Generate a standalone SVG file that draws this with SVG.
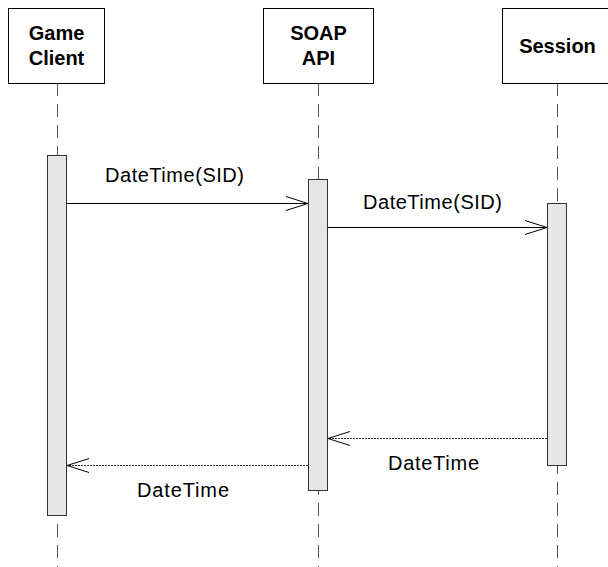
<svg xmlns="http://www.w3.org/2000/svg" width="608" height="567" viewBox="0 0 608 567">
<style>
.box{fill:#fff;stroke:#000;stroke-width:1}
.title{font-family:"Liberation Sans",Arial,sans-serif;font-weight:bold;font-size:20px;fill:#000;text-anchor:middle}
.life{stroke:#555;stroke-width:1;stroke-dasharray:13,8;fill:none}
.bar{fill:#e6e6e6;stroke:#333;stroke-width:1}
.msg{stroke:#000;stroke-width:1;fill:none}
.ret{stroke:#333;stroke-width:1;stroke-dasharray:2,1;fill:none}
.head{stroke:#000;stroke-width:1;fill:none}
.lbl{font-family:"Liberation Sans",Arial,sans-serif;font-size:20px;fill:#000}
</style>
<rect width="608" height="567" fill="#fff"/>
<g id="lifelines">
<line class="life" x1="57.5" y1="83" x2="57.5" y2="567"/>
<line class="life" x1="318.5" y1="83" x2="318.5" y2="567"/>
<line class="life" x1="557.5" y1="83" x2="557.5" y2="567"/>
</g>
<g id="game-client">
<rect class="box" x="8.5" y="8.5" width="96" height="75"/>
<text class="title" x="56.5" y="40">Game</text>
<text class="title" x="56.5" y="65">Client</text>
<rect class="bar" x="47.5" y="155.5" width="19" height="360"/>
</g>
<g id="soap-api">
<rect class="box" x="263.5" y="8.5" width="110" height="75"/>
<text class="title" x="318.5" y="40">SOAP</text>
<text class="title" x="318.5" y="65">API</text>
<rect class="bar" x="308.5" y="179.5" width="19" height="311"/>
</g>
<g id="session">
<rect class="box" x="502.5" y="8.5" width="112" height="75"/>
<text class="title" x="557.5" y="53">Session</text>
<rect class="bar" x="547.5" y="203.5" width="19" height="262"/>
</g>
<g id="connectors">
<line class="msg" x1="66.5" y1="203.5" x2="308" y2="203.5"/>
<polyline class="head" points="286,196.5 308,203.5 286,210.5"/>
<line class="msg" x1="327.5" y1="227.5" x2="547" y2="227.5"/>
<polyline class="head" points="525,220.5 547,227.5 525,234.5"/>
<line class="ret" x1="547" y1="438.5" x2="328" y2="438.5"/>
<polyline class="head" points="350,431.5 328,438.5 350,445.5"/>
<line class="ret" x1="308" y1="465.5" x2="67" y2="465.5"/>
<polyline class="head" points="89,458.5 67,465.5 89,472.5"/>
</g>
<g id="labels">
<text class="lbl" x="105" y="182" textLength="139" lengthAdjust="spacing">DateTime(SID)</text>
<text class="lbl" x="363" y="209" textLength="139" lengthAdjust="spacing">DateTime(SID)</text>
<text class="lbl" x="388" y="470" textLength="91" lengthAdjust="spacing">DateTime</text>
<text class="lbl" x="137" y="497" textLength="92" lengthAdjust="spacing">DateTime</text>
</g>
</svg>
